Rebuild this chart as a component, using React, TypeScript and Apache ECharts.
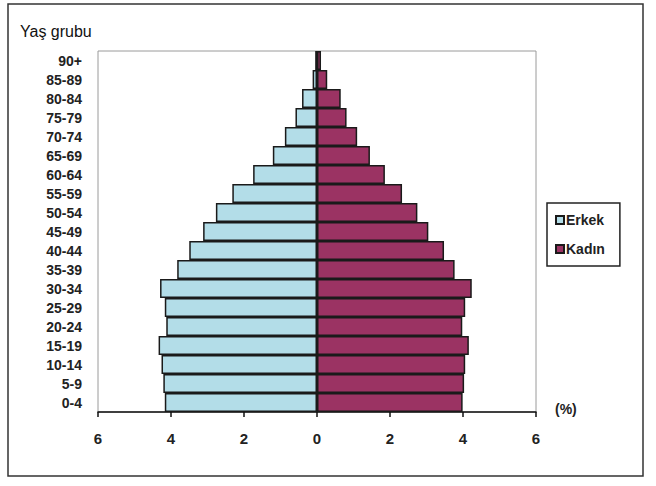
import React, { useEffect, useRef } from "react";
import * as echarts from "echarts";

const ageGroups = ["0-4", "5-9", "10-14", "15-19", "20-24", "25-29", "30-34", "35-39", "40-44", "45-49", "50-54", "55-59", "60-64", "65-69", "70-74", "75-79", "80-84", "85-89", "90+"];
const erkek = [4.17, 4.21, 4.26, 4.34, 4.13, 4.17, 4.3, 3.83, 3.5, 3.12, 2.77, 2.32, 1.75, 1.21, 0.88, 0.59, 0.41, 0.12, 0.05];
const kadin = [3.99, 4.03, 4.06, 4.16, 3.98, 4.06, 4.24, 3.77, 3.48, 3.05, 2.75, 2.33, 1.86, 1.45, 1.1, 0.81, 0.65, 0.28, 0.11];
const xTicks = [-6, 6, 2];

const FONT = "Arial, 'Liberation Sans', sans-serif";

export default function App() {
  const ref = useRef<HTMLDivElement>(null);
  useEffect(() => {
    if (!ref.current) return;
    const chart = echarts.init(ref.current, undefined, { renderer: "svg" });
    chart.setOption({
      animation: false,
      backgroundColor: "#ffffff",
      grid: {
        left: 98,
        right: 120,
        top: 51,
        bottom: 74,
        containLabel: false,
        show: true,
        borderColor: "#9a9a9a",
        borderWidth: 1,
      },
      legend: {
        orient: "vertical",
        left: 547,
        top: 203,
        borderColor: "#222",
        borderWidth: 1.5,
        padding: [10, 15, 10, 8],
        itemWidth: 8,
        itemHeight: 8,
        itemGap: 15,
        icon: "rect",
        data: ["Erkek", "Kadın"],
        textStyle: { fontFamily: FONT, fontSize: 14, fontWeight: "bold", color: "#222", padding: [0, 0, 0, -3] },
      },
      xAxis: {
        type: "value",
        min: xTicks[0],
        max: xTicks[1],
        interval: xTicks[2],
        splitLine: { show: false },
        axisLine: { show: true, lineStyle: { color: "#111", width: 1.5 } },
        axisTick: { show: true, length: 5, lineStyle: { color: "#111", width: 1.5 } },
        axisLabel: {
          margin: 19,
          fontFamily: FONT,
          fontSize: 15,
          fontWeight: "bold",
          color: "#222",
          formatter: (v: number) => String(Math.abs(v)),
        },
      },
      yAxis: {
        type: "category",
        data: ageGroups,
        axisLine: { show: false },
        axisTick: { show: false },
        axisLabel: {
          margin: 16,
          fontFamily: FONT,
          fontSize: 14,
          fontWeight: "bold",
          color: "#222",
        },
      },
      series: [
        {
          name: "Erkek",
          type: "bar",
          stack: "total",
          barCategoryGap: "0%",
          data: erkek.map((v) => -v),
          itemStyle: { color: "#b3dde8", borderColor: "#1a1a1a", borderWidth: 1.5 },
        },
        {
          name: "Kadın",
          type: "bar",
          stack: "total",
          barCategoryGap: "0%",
          data: kadin,
          itemStyle: { color: "#9b3363", borderColor: "#1a1a1a", borderWidth: 1.5 },
        },
      ],
      graphic: [
        {
          type: "rect",
          shape: { x: 8, y: 4, width: 635, height: 472 },
          style: { fill: "none", stroke: "#333", lineWidth: 1.5 },
          silent: true,
        },
        {
          type: "text",
          x: 20,
          y: 31,
          style: { text: "Yaş grubu", font: `16px ${FONT}`, fill: "#111", textVerticalAlign: "middle" },
        },
        {
          type: "text",
          x: 555,
          y: 409,
          style: { text: "(%)", font: `bold 14px ${FONT}`, fill: "#222", textVerticalAlign: "middle" },
        },
      ],
    });
    return () => chart.dispose();
  }, []);
  return <div ref={ref} style={{ position: "fixed", left: 0, top: 0, width: 656, height: 486 }} />;
}
